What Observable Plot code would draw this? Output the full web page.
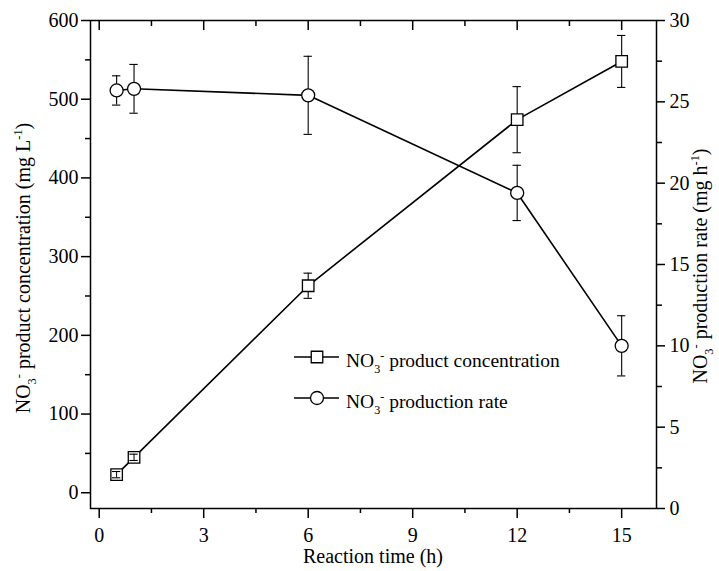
<!DOCTYPE html>
<html>
<head>
<meta charset="utf-8">
<script src="https://cdn.jsdelivr.net/npm/d3@7"></script>
<script src="https://cdn.jsdelivr.net/npm/@observablehq/plot@0.6"></script>
<style>
  body { margin: 0; background: #fff; }
  #chart svg { font-family: "Liberation Serif", "Times New Roman", serif; overflow: visible; }
</style>
</head>
<body>
<div id="chart"></div>
<script>
// Reaction time (h)
const time = [0.5, 1, 6, 12, 15];
// NO3- product concentration (mg L-1), mean and error
const concentration = [23, 45, 263, 474, 548];
const concentrationErr = [4, 4, 16, 42, 33];
// NO3- production rate (mg h-1), mean and error
const rate = [25.7, 25.8, 25.4, 19.4, 10.0];
const rateErr = [0.9, 1.5, 2.4, 1.7, 1.85];

// Tick values
const xTicks = [0, 3, 6, 9, 12, 15];
const xMinor = [1.5, 4.5, 7.5, 10.5, 13.5];
const leftTicks = [0, 100, 200, 300, 400, 500, 600];
const leftMinor = [50, 150, 250, 350, 450, 550];
const rightTicks = [0, 5, 10, 15, 20, 25, 30];
const rightMinor = [2.5, 7.5, 12.5, 17.5, 22.5, 27.5];

const leftDomain = [-20, 600];
const rightDomain = [0, 30];
// map a right-axis (rate) value onto the left-axis scale
const toLeft = v => leftDomain[0] + (v - rightDomain[0]) / (rightDomain[1] - rightDomain[0]) * (leftDomain[1] - leftDomain[0]);

const conc = time.map((t, i) => ({t, v: concentration[i], e: concentrationErr[i]}));
const rt = time.map((t, i) => ({t, v: toLeft(rate[i]), lo: toLeft(rate[i] - rateErr[i]), hi: toLeft(rate[i] + rateErr[i])}));

const cap = 0.12; // half width of error-bar caps, in hours
const fs = 20;

const plot = Plot.plot({
  width: 719,
  height: 571,
  marginTop: 20,
  marginBottom: 63,
  marginLeft: 90,
  marginRight: 63,
  x: {domain: [-0.25, 16]},
  y: {domain: leftDomain},
  marks: [
    Plot.frame({stroke: "black", strokeWidth: 1.5}),
    // bottom axis
    Plot.axisX(xTicks, {anchor: "bottom", tickSize: 10, tickPadding: 9, fontSize: fs, label: null, strokeWidth: 1.5}),
    Plot.axisX(xMinor, {anchor: "bottom", tickSize: 5, tickFormat: () => "", label: null, strokeWidth: 1.5}),
    // top axis, inward ticks
    Plot.axisX(xTicks, {anchor: "top", tickSize: -9, tickFormat: () => "", label: null, strokeWidth: 1.5}),
    Plot.axisX(xMinor, {anchor: "top", tickSize: -5, tickFormat: () => "", label: null, strokeWidth: 1.5}),
    // left axis
    Plot.axisY(leftTicks, {anchor: "left", tickSize: 9, tickPadding: 3, fontSize: fs, label: null, strokeWidth: 1.5}),
    Plot.axisY(leftMinor, {anchor: "left", tickSize: 5, tickFormat: () => "", label: null, strokeWidth: 1.5}),
    // right axis (rate)
    Plot.axisY(rightTicks.map(toLeft), {anchor: "right", tickSize: 8, tickPadding: 5, fontSize: fs, label: null, strokeWidth: 1.5,
      tickFormat: (d, i) => String(rightTicks[i])}),
    Plot.axisY(rightMinor.map(toLeft), {anchor: "right", tickSize: 5, tickFormat: () => "", label: null, strokeWidth: 1.5}),

    // connecting lines
    Plot.line(conc, {x: "t", y: "v", stroke: "black", strokeWidth: 1.6}),
    Plot.line(rt, {x: "t", y: "v", stroke: "black", strokeWidth: 1.6}),

    // error bars
    Plot.ruleX(conc, {x: "t", y1: d => d.v - d.e, y2: d => d.v + d.e, stroke: "black", strokeWidth: 1.1}),
    Plot.ruleX(rt, {x: "t", y1: "lo", y2: "hi", stroke: "black", strokeWidth: 1.1}),

    // markers
    Plot.dot(conc, {x: "t", y: "v", symbol: "square", r: 6.5, fill: "white", stroke: "black", strokeWidth: 1.3}),
    Plot.dot(rt, {x: "t", y: "v", symbol: "circle", r: 6.5, fill: "white", stroke: "black", strokeWidth: 1.3}),

    // small error bars remain visible over their markers
    Plot.ruleX(conc.filter(d => d.e < 8), {x: "t", y1: d => d.v - d.e, y2: d => d.v + d.e, stroke: "black", strokeWidth: 1}),

    // caps
    Plot.ruleY(conc, {y: d => d.v + d.e, x1: d => d.t - cap, x2: d => d.t + cap, stroke: "black", strokeWidth: 1.1}),
    Plot.ruleY(conc, {y: d => d.v - d.e, x1: d => d.t - cap, x2: d => d.t + cap, stroke: "black", strokeWidth: 1.1}),
    Plot.ruleY(rt, {y: "hi", x1: d => d.t - cap, x2: d => d.t + cap, stroke: "black", strokeWidth: 1.1}),
    Plot.ruleY(rt, {y: "lo", x1: d => d.t - cap, x2: d => d.t + cap, stroke: "black", strokeWidth: 1.1})
  ]
});

document.getElementById("chart").appendChild(plot);

const svg = d3.select(plot);
svg.selectAll("text").attr("fill", "black");

// text with chemical sub/superscripts: parts are [text, kind]
function rich(g, parts, size) {
  const small = size * 0.62;
  let shift = 0;
  parts.forEach(([s, kind]) => {
    const target = kind === "sub" ? size * 0.3 : kind === "sup" ? -size * 0.38 : 0;
    g.append("tspan").text(s).attr("dy", target - shift)
      .attr("font-size", kind ? small : size);
    shift = target;
  });
}

const no3 = [["NO", null], ["3", "sub"], ["-", "sup"]];

// left axis title, centred on the axis
const lt = svg.append("text").attr("transform", "translate(30,268) rotate(-90)")
  .attr("text-anchor", "middle").attr("font-size", fs).attr("fill", "black");
rich(lt, [...no3, [" product concentration (mg L", null], ["-1", "sup"], [")", null]], fs);

// right axis title, centred on the axis
const rtitle = svg.append("text").attr("transform", "translate(707,266) rotate(-90)")
  .attr("text-anchor", "middle").attr("font-size", fs).attr("fill", "black");
rich(rtitle, [...no3, [" production rate (mg h", null], ["-1", "sup"], [")", null]], fs);

// x axis title
svg.append("text").attr("x", 373).attr("y", 563).attr("text-anchor", "middle")
  .attr("font-size", fs).attr("fill", "black").text("Reaction time (h)");

// legend
const legendSize = 19.5;
const legend = [
  {symbol: d3.symbolSquare, parts: [...no3, [" product concentration", null]], y: 357},
  {symbol: d3.symbolCircle, parts: [...no3, [" production rate", null]], y: 398}
];
legend.forEach(item => {
  const g = svg.append("g");
  g.append("line").attr("x1", 294).attr("x2", 339).attr("y1", item.y).attr("y2", item.y)
    .attr("stroke", "black").attr("stroke-width", 1.6);
  g.append("path").attr("d", d3.symbol(item.symbol, Math.PI * 6.5 * 6.5)())
    .attr("transform", `translate(317,${item.y})`)
    .attr("fill", "white").attr("stroke", "black").attr("stroke-width", 1.3);
  const t = g.append("text").attr("x", 346).attr("y", item.y + 10)
    .attr("text-anchor", "start").attr("font-size", legendSize).attr("fill", "black");
  rich(t, item.parts, legendSize);
});
</script>
</body>
</html>
